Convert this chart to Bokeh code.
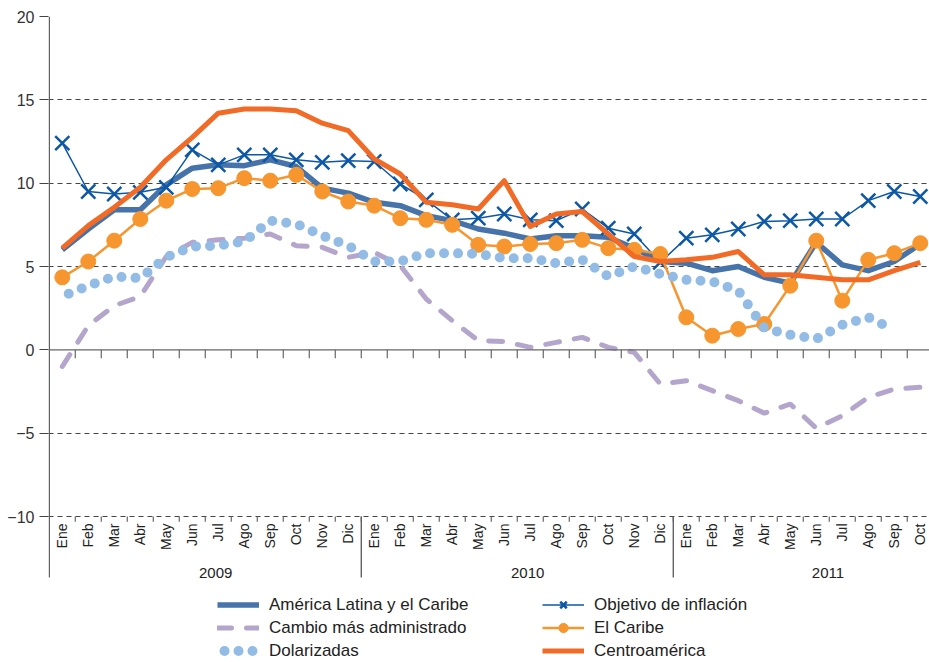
import math
from bokeh.plotting import figure
from bokeh.models import Range1d, FixedTicker, Legend, LegendItem, Span
from bokeh.core.properties import value
from bokeh.embed import file_html
from bokeh.resources import INLINE

# ---------------- data ----------------
months = ["Ene", "Feb", "Mar", "Abr", "May", "Jun", "Jul", "Ago", "Sep", "Oct", "Nov", "Dic",
          "Ene", "Feb", "Mar", "Abr", "May", "Jun", "Jul", "Ago", "Sep", "Oct", "Nov", "Dic",
          "Ene", "Feb", "Mar", "Abr", "May", "Jun", "Jul", "Ago", "Sep", "Oct"]
years = ["2009", "2010", "2011"]
year_start = [0, 12, 24]
y_ticks = [-10, -5, 0, 5, 10, 15, 20]

america_latina = [6.0, 7.24, 8.4, 8.4, 9.9, 10.9, 11.1, 11.05, 11.4, 11.0, 9.7, 9.4,
                  8.85, 8.65, 8.05, 7.75, 7.25, 7.0, 6.65, 6.85, 6.85, 6.75, 6.1, 5.3,
                  5.2, 4.75, 5.0, 4.35, 4.0, 6.45, 5.1, 4.75, 5.3, 6.35]
objetivo = [12.4, 9.5, 9.35, 9.45, 9.75, 12.0, 11.1, 11.7, 11.7, 11.4, 11.25, 11.35,
            11.3, 9.95, 9.0, 7.8, 7.9, 8.15, 7.8, 7.75, 8.45, 7.3, 6.95, 5.25,
            6.7, 6.9, 7.25, 7.7, 7.75, 7.85, 7.85, 8.95, 9.5, 9.2]
cambio = [-1.0, 1.45, 2.65, 3.2, 5.6, 6.45, 6.6, 6.7, 6.95, 6.25, 6.15, 5.55,
          5.85, 5.05, 3.05, 1.75, 0.55, 0.5, 0.15, 0.45, 0.75, 0.15, -0.15, -2.05,
          -1.85, -2.45, -3.05, -3.8, -3.25, -4.7, -3.95, -2.85, -2.35, -2.25]
el_caribe = [4.35, 5.3, 6.55, 7.85, 8.95, 9.65, 9.7, 10.3, 10.15, 10.5, 9.5, 8.9,
             8.65, 7.9, 7.8, 7.5, 6.3, 6.2, 6.35, 6.4, 6.6, 6.1, 6.0, 5.75,
             1.95, 0.85, 1.25, 1.55, 3.85, 6.55, 2.95, 5.4, 5.8, 6.4]
dolarizadas = [3.2, 3.85, 4.4, 4.3, 5.55, 6.2, 6.25, 6.5, 7.75, 7.55, 6.85, 6.25,
               5.3, 5.3, 5.8, 5.8, 5.75, 5.5, 5.5, 5.2, 5.4, 4.4, 5.0, 4.55,
               4.2, 4.1, 3.55, 1.3, 0.9, 0.65, 1.5, 1.95, 1.2, float("nan")]
centroamerica = [6.1, 7.45, 8.55, 9.75, 11.4, 12.75, 14.2, 14.45, 14.45, 14.35, 13.6, 13.15,
                 11.45, 10.55, 8.85, 8.7, 8.45, 10.15, 7.4, 8.15, 8.3, 6.95, 5.6, 5.3,
                 5.4, 5.55, 5.9, 4.5, 4.5, 4.35, 4.2, 4.2, 4.75, 5.25]

# ---------------- layout constants ----------------
FONT = "Liberation Sans"
Y_TOP, Y_MIN = 20, -10
Y_BOTTOM_VIEW = -18.76
AXIS_BOTTOM = -13.66
YEAR_LABEL_SHIFT = [5.9, 5.9, 5.45]
n = len(months)
x = list(range(n))

C_ALC = "#4673a9"
C_OBJ = "#0c58a6"
C_CAM = "#b3a5cb"
C_CAR = "#f7962f"
C_DOL = "#92bce6"
C_CEN = "#f26b26"

p = figure(width=929, height=662,
           x_range=Range1d(-0.53, 33.355), y_range=Range1d(Y_BOTTOM_VIEW, Y_TOP),
           output_backend="svg", toolbar_location=None, x_axis_type=None,
           min_border_left=48, min_border_right=0, min_border_top=16, min_border_bottom=0)
p.outline_line_color = None
p.background_fill_color = "white"
p.border_fill_color = "white"

# y axis
ya = p.yaxis[0]
ya.ticker = FixedTicker(ticks=y_ticks)
ya.axis_line_color = None
ya.major_tick_in = 0
ya.major_tick_out = 9
ya.major_tick_line_color = "#444"
ya.minor_tick_line_color = None
ya.major_label_standoff = 5
ya.major_label_text_font = FONT
ya.major_label_text_font_size = "16px"
ya.major_label_text_color = "#333"

p.ygrid.ticker = FixedTicker(ticks=[t for t in y_ticks if t != 0])
p.ygrid.grid_line_color = "#444"
p.ygrid.grid_line_dash = "5 4"
p.ygrid.grid_line_width = 1
for g in p.xgrid:
    g.visible = False

# zero line (category axis)
p.add_layout(Span(location=0, dimension="width", line_color="#666", line_width=1.3))

# axis line and group separators
sep_x = [-0.5] + [s - 0.5 for s in year_start[1:]]
sep_top = [Y_TOP] + [Y_MIN] * (len(sep_x) - 1)
p.segment(x0=sep_x, y0=sep_top, x1=sep_x, y1=[AXIS_BOTTOM] * len(sep_x),
          line_color="#555", line_width=1.3)

# tick marks at category boundaries
bounds = [i + 0.5 for i in range(n)]
p.segment(x0=bounds, y0=[0] * n, x1=bounds, y1=[-0.5] * n, line_color="#666", line_width=1.2)
p.segment(x0=bounds, y0=[Y_MIN] * n, x1=bounds, y1=[Y_MIN - 0.32] * n, line_color="#666", line_width=1.2)

# month labels
p.text(x=x, y=[Y_MIN - 0.42] * n, text=months, angle=math.pi / 2,
       text_align="right", text_baseline="middle",
       text_font=value(FONT), text_font_size="14px", text_color="#222")
# year labels
p.text(x=[s + d for s, d in zip(year_start, YEAR_LABEL_SHIFT)], y=[-13.36] * len(years), text=years,
       text_align="center", text_baseline="middle",
       text_font=value(FONT), text_font_size="15px", text_color="#222")

# ---------------- series ----------------
r_alc = p.line(x, america_latina, line_color=C_ALC, line_width=5.5, line_join="round")
r_obj_l = p.line(x, objetivo, line_color=C_OBJ, line_width=1.5)
r_obj_m = p.scatter(x, objetivo, marker="x", size=20, line_color=C_OBJ, line_width=2.5)
r_cam = p.line(x, cambio, line_color=C_CAM, line_width=5, line_dash="14 15", line_cap="round")
r_car_l = p.line(x, el_caribe, line_color=C_CAR, line_width=2.5)
r_car_m = p.scatter(x, el_caribe, marker="circle", size=15, fill_color=C_CAR, line_color=C_CAR)
r_dol = p.line(x, dolarizadas, line_color=C_DOL, line_width=10, line_dash="0 14",
               line_dash_offset=7, line_cap="round")
r_cen = p.line(x, centroamerica, line_color=C_CEN, line_width=5, line_join="round")

leg_kw = dict(orientation="vertical", padding=0, margin=0, spacing=0,
              glyph_width=42, glyph_height=23, label_height=23, label_standoff=10,
              label_text_font=FONT, label_text_font_size="17px", label_text_color="#222",
              border_line_color=None, background_fill_alpha=0)
leg1 = Legend(items=[LegendItem(label="América Latina y el Caribe", renderers=[r_alc]),
                     LegendItem(label="Cambio más administrado", renderers=[r_cam]),
                     LegendItem(label="Dolarizadas", renderers=[r_dol])],
              location=(169, 0), **leg_kw)
leg2 = Legend(items=[LegendItem(label="Objetivo de inflación", renderers=[r_obj_l, r_obj_m]),
                     LegendItem(label="El Caribe", renderers=[r_car_l, r_car_m]),
                     LegendItem(label="Centroamérica", renderers=[r_cen])],
              location=(494, 0), **leg_kw)
p.add_layout(leg1)
p.add_layout(leg2)

open("out.html", "w").write(file_html(p, INLINE))
